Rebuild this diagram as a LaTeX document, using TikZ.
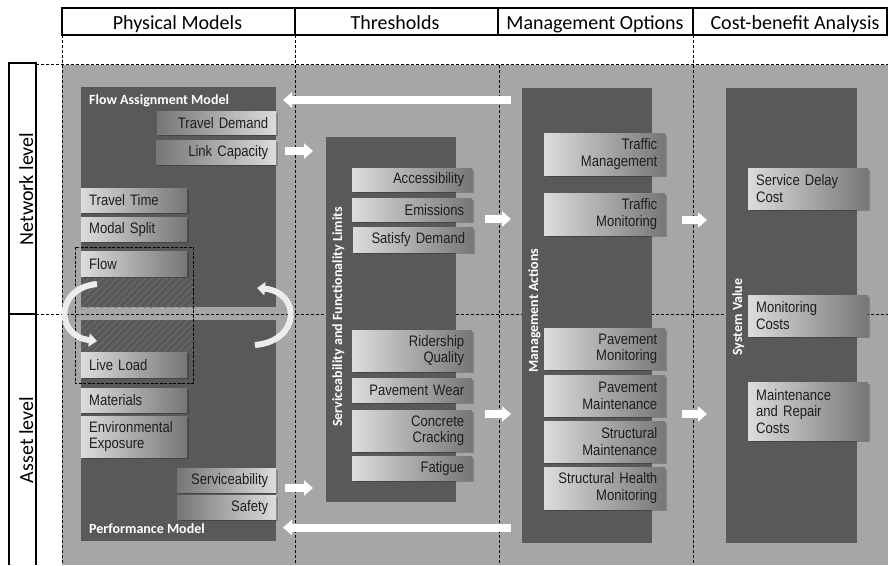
\documentclass[tikz,border=0pt]{standalone}
\usepackage{fontspec}
\setmainfont{Carlito}
\newfontfamily\boxfont[FakeStretch=0.86]{Liberation Sans}
\usetikzlibrary{arrows.meta,patterns.meta}
\definecolor{bggray}{HTML}{A6A6A6}
\definecolor{panelc}{HTML}{595959}
\definecolor{boxlight}{HTML}{DCDCDC}
\definecolor{boxdark}{HTML}{767676}
\definecolor{hatchc}{HTML}{6C6C6C}
\definecolor{txt}{HTML}{1E1E1E}
\begin{document}
\begin{tikzpicture}[x=1pt,y=-1pt,
  grid/.style={draw=black, line width=0.7pt, dash pattern=on 3pt off 2pt},
  frame/.style={draw=black, line width=1.4pt},
  hdr/.style={font=\fontsize{20}{22}\selectfont, anchor=base, inner sep=0pt},
  rowlab/.style={font=\fontsize{20}{22}\selectfont, rotate=90, anchor=base, inner sep=0pt},
  panellab/.style={font=\bfseries\fontsize{14}{16}\selectfont, text=white, inner sep=0pt},
  vlab/.style={panellab, rotate=90, anchor=base},
  panel/.style={fill=panelc},
  bx/.style n args={3}{font=\boxfont\fontsize{15.2}{16.5}\selectfont, text=txt,
     anchor=north west, inner xsep=8pt, inner ysep=0pt,
     minimum width=#1pt, text width=#2pt, minimum height=#3pt,
     preaction={fill=black, fill opacity=0.22, transform canvas={shift={(1.5pt,-1.5pt)}}}},
  lr/.style={left color=boxlight, right color=boxdark},
  rl/.style={left color=boxdark, right color=boxlight},
  ra/.style={align=right},
  la/.style={align=left},
  barrow/.style={draw=white, line width=8pt, -{Triangle[width=15pt,length=9pt]}},
  carrow/.style={draw=white!85!gray, line width=6pt, -{Triangle[width=13pt,length=8pt]}},
  hatch/.style={pattern={Lines[angle=45,distance=5pt,line width=1pt]}, pattern color=hatchc}
]
\useasboundingbox (0,0) rectangle (888,565);
\fill[white] (0,0) rectangle (888,565);
\fill[bggray] (62,65) rectangle (888,565);

% dashed grid
\draw[grid] (36,64) -- (888,64);
\draw[grid] (36,314) -- (888,314);
\draw[grid] (62,35) -- (62,565);
\draw[grid] (295,35) -- (295,565);
\draw[grid] (499,65) -- (499,565);
\draw[grid] (693,35) -- (693,565);

% header
\draw[frame] (62,8) rectangle (887,35);
\draw[frame] (295,8) -- (295,35);
\draw[frame] (498,8) -- (498,35);
\draw[frame] (693,8) -- (693,35);
\node[hdr] (h1) at (177.5,29) {Physical Models};
\node[hdr] (h2) at (395,29) {Thresholds};
\node[hdr] (h3) at (595,29) {Management Options};
\node[hdr] (h4) at (795,29) {Cost-benefit Analysis};

% row labels
\draw[frame] (9,565) -- (9,63) -- (36,63) -- (36,565);
\draw[frame] (9,314) -- (36,314);
\node[rowlab] (rl1) at (33,189) {Network level};
\node[rowlab] (rl2) at (33,440) {Asset level};

% panels
\fill[panel] (81,87) rectangle (276,307);
\fill[panel] (81,320) rectangle (276,541);
\fill[panel] (326,137) rectangle (456,502);
\fill[panel] (522,88) rectangle (652,543);
\fill[panel] (726,88) rectangle (857,543);

% hatch and dashed frame
\fill[hatch] (81,276) rectangle (193,307);
\fill[hatch] (81,320) rectangle (193,352);
\draw[black, line width=0.7pt, dash pattern=on 3pt off 1.5pt] (75,247) rectangle (193,383);

% panel labels
\node[panellab, anchor=base west] (fam) at (89,104) {Flow Assignment Model};
\node[panellab, anchor=base west] (pfm) at (89,533) {Performance Model};
\node[vlab] (sfl) at (342,317) {Serviceability and Functionality Limits};
\node[vlab] (mga) at (538,310.5) {Management Actions};
\node[vlab] (syv) at (742,317) {System Value};

% physical model boxes
\node[bx={119}{103}{23}, rl, ra] (td) at (157,111) {Travel Demand};
\node[bx={120}{104}{24}, rl, ra] (lc) at (156,140) {Link Capacity};
\node[bx={106}{90}{24}, lr, la] (tt) at (81,188) {Travel Time};
\node[bx={106}{90}{24}, lr, la] (ms) at (81,217) {Modal Split};
\node[bx={106}{90}{25}, lr, la] (fl) at (81,251) {Flow};
\node[bx={106}{90}{25}, lr, la] (ll) at (81,352) {Live Load};
\node[bx={106}{90}{24}, lr, la] (mat) at (81,388) {Materials};
\node[bx={106}{90}{41}, lr, la] (env) at (81,416) {Environmental\\Exposure};
\node[bx={99}{83}{24}, rl, ra] (sv) at (177,468) {Serviceability};
\node[bx={99}{83}{24}, rl, ra] (sf) at (177,495) {Safety};

% threshold boxes
\node[bx={120}{104}{23}, lr, ra] (acc) at (352,168) {Accessibility};
\node[bx={120}{104}{23}, lr, ra] (emi) at (352,198) {Emissions};
\node[bx={120}{104}{25}, lr, ra] (sd) at (353,227) {Satisfy Demand};
\node[bx={120}{104}{41}, lr, ra] (rq) at (352,330) {Ridership\\Quality};
\node[bx={120}{104}{24}, lr, ra] (pw) at (352,378) {Pavement Wear};
\node[bx={120}{104}{41}, lr, ra] (cc) at (352,410) {Concrete\\Cracking};
\node[bx={120}{104}{24}, lr, ra] (fat) at (352,456) {Fatigue};

% management boxes
\node[bx={121}{105}{42}, lr, ra] (tm) at (544,133) {Traffic\\Management};
\node[bx={121}{105}{42}, lr, ra] (tmo) at (544,193) {Traffic\\Monitoring};
\node[bx={121}{105}{41}, lr, ra] (pm) at (544,328) {Pavement\\Monitoring};
\node[bx={121}{105}{41}, lr, ra] (pma) at (544,375) {Pavement\\Maintenance};
\node[bx={121}{105}{41}, lr, ra] (sm) at (544,421) {Structural\\Maintenance};
\node[bx={121}{105}{42}, lr, ra] (shm) at (544,467) {Structural Health\\Monitoring};

% cost boxes
\node[bx={120}{104}{41}, lr, la] (sdc) at (748,168) {Service Delay\\Cost};
\node[bx={120}{104}{41}, lr, la] (mc) at (748,295) {Monitoring\\Costs};
\node[bx={120}{104}{58}, lr, la] (mrc) at (748,382) {Maintenance\\and Repair\\Costs};

% arrow end points
\coordinate (a0s) at (511,100); \coordinate (a0e) at (283,100);
\coordinate (a9s) at (511,527.5); \coordinate (a9e) at (283,527.5);
\coordinate (a1s) at (285,151); \coordinate (a1e) at (313,151);
\coordinate (a2s) at (285,488); \coordinate (a2e) at (313,488);
\coordinate (a3s) at (485,219); \coordinate (a3e) at (511,219);
\coordinate (a4s) at (485,414); \coordinate (a4e) at (511,414);
\coordinate (a5s) at (682,220); \coordinate (a5e) at (707,220);
\coordinate (a6s) at (682,414); \coordinate (a6e) at (707,414);
\coordinate (c1s) at (97,284); \coordinate (c1e) at (97,341);
\coordinate (c2s) at (255,345); \coordinate (c2e) at (257,288);

\draw[barrow] (a0s) -- (a0e);
\draw[barrow] (a9s) -- (a9e);
\draw[barrow] (a1s) -- (a1e);
\draw[barrow] (a2s) -- (a2e);
\draw[barrow] (a3s) -- (a3e);
\draw[barrow] (a4s) -- (a4e);
\draw[barrow] (a5s) -- (a5e);
\draw[barrow] (a6s) -- (a6e);
\draw[carrow] (c1s) .. controls (55,288) and (55,336) .. (c1e);
\draw[carrow] (c2s) .. controls (301,341) and (301,292) .. (c2e);
\end{tikzpicture}
\end{document}
